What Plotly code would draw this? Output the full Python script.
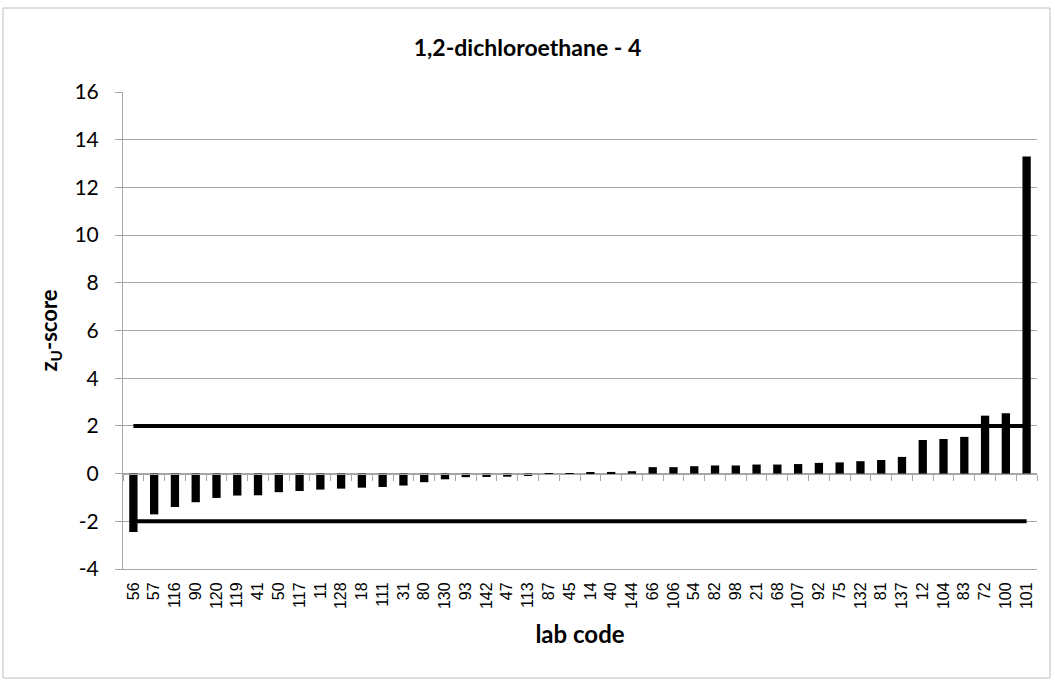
import plotly.graph_objects as go

labs = ["56", "57", "116", "90", "120", "119", "41", "50", "117", "11", "128", "18", "111", "31",
        "80", "130", "93", "142", "47", "113", "87", "45", "14", "40", "144", "66", "106", "54",
        "82", "98", "21", "68", "107", "92", "75", "132", "81", "137", "12", "104", "83", "72",
        "100", "101"]
zu = [-2.45, -1.71, -1.40, -1.20, -1.02, -0.92, -0.91, -0.78, -0.73, -0.67, -0.63, -0.59, -0.56, -0.50,
      -0.36, -0.24, -0.15, -0.14, -0.13, -0.10, -0.05, -0.01, 0.05, 0.07, 0.10, 0.27, 0.27, 0.31,
      0.34, 0.34, 0.38, 0.38, 0.40, 0.45, 0.47, 0.52, 0.57, 0.70, 1.41, 1.45, 1.54, 2.43,
      2.53, 13.3]
upper_limit = 2
lower_limit = -2
title = "1,2-dichloroethane - 4"
y_tickvals = [-4, -2, 0, 2, 4, 6, 8, 10, 12, 14, 16]
y_ticktext = ["-4", "-2", "0", "2", "4", "6", "8", "10", "12", "14", "16"]

fig = go.Figure()
fig.add_trace(go.Bar(x=labs, y=zu, marker=dict(color="black", line=dict(width=0)), width=0.4,
                     showlegend=False, hoverinfo="x+y"))
fig.add_trace(go.Scatter(x=labs, y=[upper_limit] * len(labs), mode="lines", xaxis="x2",
                         line=dict(color="black", width=4), showlegend=False))
fig.add_trace(go.Scatter(x=labs, y=[lower_limit] * len(labs), mode="lines", xaxis="x2",
                         line=dict(color="black", width=4), showlegend=False))

grey = "#a6a6a6"
font_main = "Lato, Open Sans, sans-serif"
fig.update_layout(
    width=1055, height=683,
    margin=dict(l=123, r=18, t=92, b=114),
    paper_bgcolor="white", plot_bgcolor="white",
    title=dict(text="<b>" + title + "</b>", x=0.5, xanchor="center", y=1 - 48 / 683, yanchor="middle",
               font=dict(family=font_main, size=23, color="black")),
    xaxis=dict(type="category", categoryorder="array", categoryarray=labs, range=[-0.5, len(labs) - 0.5],
               showline=True, linecolor=grey, linewidth=1, ticks="", showgrid=False,
               tickangle=-90, ticklabelstandoff=6,
               tickfont=dict(family="Liberation Sans, Arial", size=16, color="black"),
               title=dict(text="<b>lab code</b>", standoff=18,
                          font=dict(family=font_main, size=24, color="black"))),
    xaxis2=dict(type="category", categoryorder="array", categoryarray=labs, range=[-0.5, len(labs) - 0.5],
                overlaying="x", anchor="free", position=0.2, side="bottom",
                showline=True, linecolor=grey, linewidth=1,
                ticks="outside", tickson="boundaries", ticklen=6, tickcolor=grey,
                showticklabels=False, showgrid=False),
    yaxis=dict(range=[-4, 16], tickmode="array", tickvals=y_tickvals, ticktext=y_ticktext,
               showgrid=True, gridcolor=grey, gridwidth=1,
               zeroline=False, showline=True, linecolor=grey, linewidth=1,
               ticks="outside", ticklen=7, tickcolor=grey, ticklabelstandoff=12,
               tickfont=dict(family=font_main, size=21, color="black"),
               title=dict(text="<b>z<sub>U</sub>-score</b>", standoff=10,
                          font=dict(family=font_main, size=22, color="black"))),
)
# chart area border
fig.add_shape(type="rect", xref="paper", yref="paper",
              x0=(3 - 123) / 914, x1=(1050 - 123) / 914,
              y0=(569 - 678) / 477, y1=(569 - 8) / 477,
              line=dict(color="#bfbfbf", width=1), fillcolor="rgba(0,0,0,0)", layer="below")

fig.write_html("out.html", config={"displayModeBar": False},
               post_script="document.body.style.margin='0px';")
